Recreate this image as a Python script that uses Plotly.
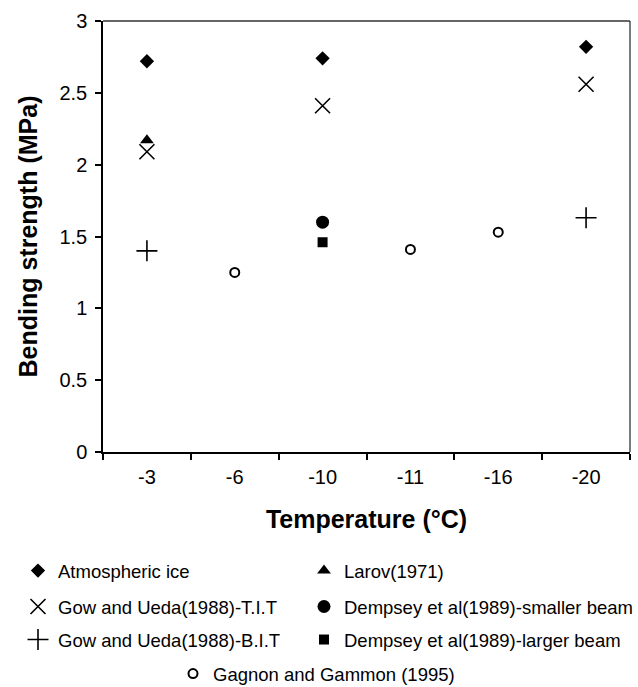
import plotly.graph_objects as go

# Temperature categories on the x axis (°C)
temperatures = ["-3", "-6", "-10", "-11", "-16", "-20"]

# Bending strength (MPa) for each data source
atmospheric_t = ["-3", "-10", "-20"]
atmospheric_v = [2.72, 2.74, 2.82]

larov_t = ["-3"]
larov_v = [2.17]

gow_tit_t = ["-3", "-10", "-20"]
gow_tit_v = [2.09, 2.41, 2.56]

dempsey_small_t = ["-10"]
dempsey_small_v = [1.60]

gow_bit_t = ["-3", "-20"]
gow_bit_v = [1.40, 1.63]

dempsey_large_t = ["-10"]
dempsey_large_v = [1.46]

gagnon_t = ["-6", "-11", "-16"]
gagnon_v = [1.25, 1.41, 1.53]

y_ticks = [0, 0.5, 1, 1.5, 2, 2.5, 3]

W, H = 638, 687
FONT = "Arial, Liberation Sans, Helvetica, sans-serif"

fig = go.Figure()

# (name, x, y, marker, legend id, legend left px, legend row centre px)
series = [
    ("Atmospheric ice", atmospheric_t, atmospheric_v,
     dict(symbol="diamond", size=11, color="black"), "legend", 18, 571),
    ("Larov(1971)", larov_t, larov_v,
     dict(symbol="triangle-up", size=12, color="black"), "legend2", 304, 571),
    ("Gow and Ueda(1988)-T.I.T", gow_tit_t, gow_tit_v,
     dict(symbol="x-thin-open", size=15, color="black",
          line=dict(width=1.6, color="black")), "legend3", 18, 607),
    ("Dempsey et al(1989)-smaller beam", dempsey_small_t, dempsey_small_v,
     dict(symbol="circle", size=13, color="black"), "legend4", 304, 607),
    ("Gow and Ueda(1988)-B.I.T", gow_bit_t, gow_bit_v,
     dict(symbol="cross-thin-open", size=15, color="black",
          line=dict(width=1.6, color="black")), "legend5", 18, 640),
    ("Dempsey et al(1989)-larger beam", dempsey_large_t, dempsey_large_v,
     dict(symbol="square", size=10, color="black"), "legend6", 304, 640),
    ("Gagnon and Gammon (1995)", gagnon_t, gagnon_v,
     dict(symbol="circle-open", size=9, color="black",
          line=dict(width=2, color="black")), "legend7", 173, 674),
]

legends = {}
for name, xs, ys, marker, leg, lx, ly in series:
    fig.add_trace(go.Scatter(
        x=xs, y=ys, mode="markers", name=name, marker=marker,
        legend=leg, showlegend=True,
    ))
    legends[leg] = dict(
        orientation="h", xref="container", yref="container",
        x=lx / W, y=1 - ly / H, xanchor="left", yanchor="middle",
        font=dict(family=FONT, size=18.5, color="black"),
        bgcolor="rgba(0,0,0,0)", borderwidth=0, itemwidth=30,
    )

fig.update_layout(
    width=W, height=H,
    margin=dict(l=103, r=8, t=21, b=235),
    plot_bgcolor="white", paper_bgcolor="white",
    font=dict(family=FONT, size=20, color="black"),
    showlegend=True,
    **legends,
)

fig.update_xaxes(
    type="category", categoryorder="array", categoryarray=temperatures,
    range=[-0.5, 5.5],
    showline=True, linecolor="black", linewidth=1.5,
    ticks="outside", tickson="boundaries", ticklen=6, tickwidth=1.5,
    tickcolor="black", showgrid=False, zeroline=False,
    tickfont=dict(family=FONT, size=20, color="black"),
    ticklabelstandoff=6,
    title=dict(text="<b>Temperature (°C)</b>", standoff=24,
               font=dict(family=FONT, size=25, color="black")),
)
fig.update_yaxes(
    range=[0, 3], tickvals=y_ticks, ticktext=[f"{v:g}" for v in y_ticks],
    showline=True, linecolor="black", linewidth=1.5,
    ticks="outside", ticklen=6, tickwidth=1.5, tickcolor="black",
    showgrid=False, zeroline=False,
    tickfont=dict(family=FONT, size=20, color="black"),
    ticklabelstandoff=4,
    title=dict(text="<b>Bending strength (MPa)</b>", standoff=15,
               font=dict(family=FONT, size=25, color="black")),
)

# thin frame on the top and right edges of the plotting area
fig.add_shape(type="line", xref="paper", yref="paper", x0=0, x1=1, y0=1, y1=1,
              line=dict(color="#333", width=1.3))
fig.add_shape(type="line", xref="paper", yref="paper", x0=1, x1=1, y0=0, y1=1,
              line=dict(color="#333", width=1.3))

fig.write_html("out.html")
